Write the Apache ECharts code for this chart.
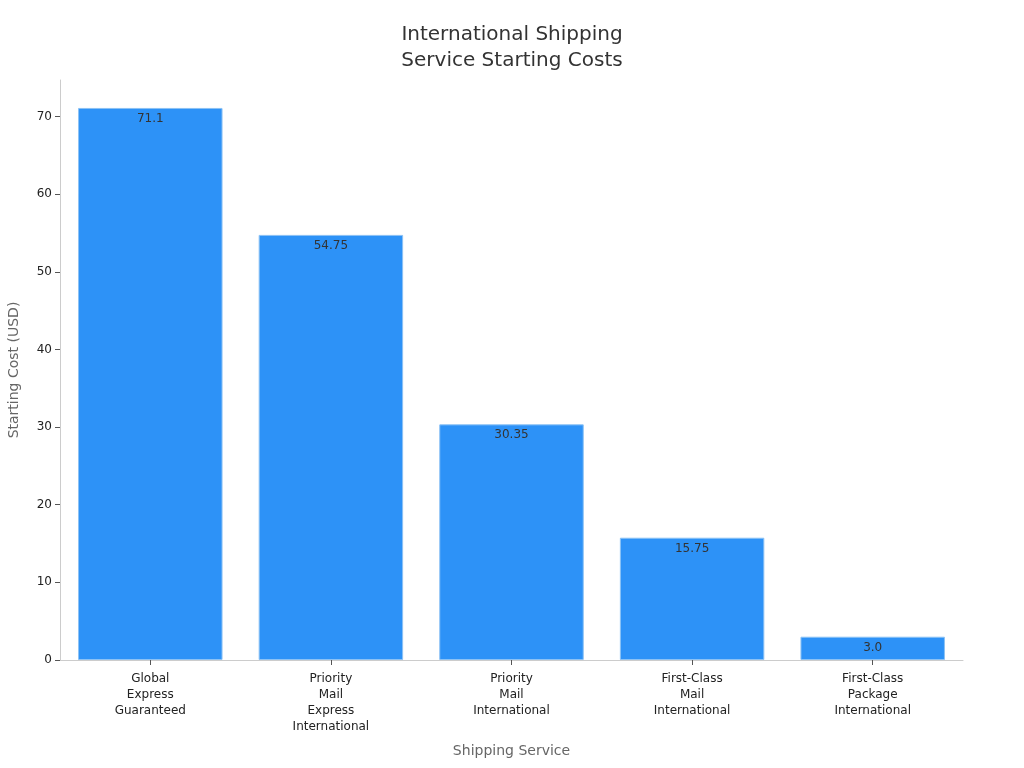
<!DOCTYPE html>
<html><head><meta charset="utf-8">
<script src="https://cdn.jsdelivr.net/npm/echarts@6/dist/echarts.min.js"></script>
<style>html,body{margin:0;padding:0;background:#fff}#c{width:1024px;height:768px}</style>
</head><body><div id="c"></div>
<script>
const categories = ["Global\nExpress\nGuaranteed", "Priority\nMail\nExpress\nInternational", "Priority\nMail\nInternational", "First-Class\nMail\nInternational", "First-Class\nPackage\nInternational"];
const costs = [71.1, 54.75, 30.35, 15.75, 3.0];
const costLabels = ["71.1", "54.75", "30.35", "15.75", "3.0"];
const yTicks = [0, 10, 20, 30, 40, 50, 60, 70];

const chart = echarts.init(document.getElementById('c'));
const font = 'DejaVu Sans';
chart.setOption({
  animation: false,
  textStyle: { fontFamily: font },
  title: {
    text: 'International Shipping\nService Starting Costs',
    left: 'center', top: 17,
    textStyle: { fontFamily: font, fontSize: 20, fontWeight: 'normal', color: '#333', lineHeight: 26 }
  },
  grid: { left: 60, right: 61, top: 80, bottom: 108, containLabel: false, outerBoundsMode: 'none' },
  xAxis: {
    type: 'category', data: categories,
    name: 'Shipping Service', nameLocation: 'middle', nameGap: 84,
    nameTextStyle: { fontFamily: font, fontSize: 14, color: '#666' },
    axisLine: { lineStyle: { color: '#ccc' } },
    axisTick: { show: true, alignWithLabel: true, lineStyle: { color: '#555' }, length: 5 },
    axisLabel: { fontFamily: font, fontSize: 12, color: '#222', lineHeight: 16, margin: 11, interval: 0 }
  },
  yAxis: {
    type: 'value', min: 0, max: 74.7, interval: 10,
    name: 'Starting Cost (USD)', nameLocation: 'middle', nameGap: 39,
    nameTextStyle: { fontFamily: font, fontSize: 14, color: '#666' },
    axisLine: { show: true, lineStyle: { color: '#ccc' } },
    axisTick: { show: true, lineStyle: { color: '#555' }, length: 5 },
    axisLabel: { fontFamily: font, fontSize: 12, color: '#222', margin: 8, showMaxLabel: false,
      formatter: v => yTicks.includes(v) ? String(v) : '' },
    splitLine: { show: false }
  },
  series: [{
    type: 'bar', barWidth: '80%',
    data: costs.map((v, i) => ({ value: v, label: { formatter: costLabels[i] } })),
    itemStyle: { color: '#2d92f7', borderColor: '#8cc2f5', borderWidth: 1 },
    label: { show: true, position: 'insideTop', distance: 5, fontFamily: font, fontSize: 12, color: '#333' }
  }]
});
</script></body></html>
